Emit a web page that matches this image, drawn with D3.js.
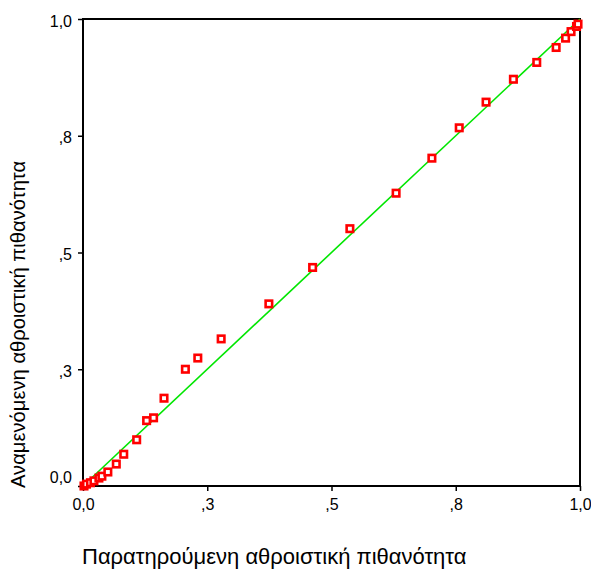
<!DOCTYPE html>
<html>
<head>
<meta charset="utf-8">
<script src="https://cdn.jsdelivr.net/npm/d3@7"></script>
<style>
  body { margin: 0; background: #fff; }
  text { font-family: Arial, "Liberation Sans", sans-serif; fill: #000; }
</style>
</head>
<body>
<svg></svg>
<script>
const width = 591;
const height = 571;

// observed vs expected cumulative probability (P-P plot)
const observed = [0.002, 0.007, 0.015, 0.022, 0.032, 0.038, 0.050, 0.067, 0.082, 0.108,
  0.128, 0.142, 0.163, 0.206, 0.231, 0.278, 0.374, 0.462, 0.537, 0.630,
  0.702, 0.757, 0.811, 0.866, 0.913, 0.952, 0.971, 0.982, 0.993, 0.996];
const expected = [0.000, 0.004, 0.007, 0.011, 0.017, 0.021, 0.030, 0.047, 0.068, 0.099,
  0.140, 0.146, 0.188, 0.250, 0.274, 0.315, 0.390, 0.468, 0.551, 0.627,
  0.702, 0.767, 0.822, 0.871, 0.907, 0.939, 0.959, 0.973, 0.984, 0.989];
const tickValues = [0, 0.25, 0.5, 0.75, 1];
const tickLabels = ["0,0", ",3", ",5", ",8", "1,0"];
const xTitle = "Παρατηρούμενη αθροιστική πιθανότητα";
const yTitle = "Αναμενόμενη αθροιστική πιθανότητα";

const margin = {top: 19, right: 11, bottom: 85, left: 83};

const svg = d3.select("svg")
    .attr("width", width)
    .attr("height", height);

const x = d3.scaleLinear().domain([0, 1]).range([margin.left, width - margin.right]);
const y = d3.scaleLinear().domain([0, 1]).range([height - margin.bottom, margin.top]);

const fmt = d => tickLabels[tickValues.indexOf(d)];

// axes
const xAxis = svg.append("g")
    .attr("transform", `translate(0,${y(0)})`)
    .call(d3.axisBottom(x).tickValues(tickValues).tickFormat(fmt).tickSize(5).tickPadding(8));
const yAxis = svg.append("g")
    .attr("transform", `translate(${x(0)},0)`)
    .call(d3.axisLeft(y).tickValues(tickValues).tickFormat(fmt).tickSize(5).tickPadding(6));

[xAxis, yAxis].forEach(a => {
  a.select(".domain").remove();
  a.selectAll(".tick line").attr("stroke", "#000").attr("stroke-width", 1.5);
  a.selectAll(".tick text").attr("font-size", 16).attr("font-family", "Arial, 'Liberation Sans', sans-serif");
});
// SPSS lifts the zero label off the corner
yAxis.selectAll(".tick text").attr("dy", d => d === 0 ? "-0.2em" : "0.45em");

// frame
svg.append("rect")
    .attr("x", x(0))
    .attr("y", y(1))
    .attr("width", x(1) - x(0))
    .attr("height", y(0) - y(1))
    .attr("fill", "none")
    .attr("stroke", "#000")
    .attr("stroke-width", 2);

// reference line
svg.append("line")
    .attr("x1", x(0)).attr("y1", y(0))
    .attr("x2", x(1)).attr("y2", y(1))
    .attr("stroke", "#00e600")
    .attr("stroke-width", 1.6);

// points
const s = 6.5;
svg.append("g")
  .selectAll("rect")
  .data(observed.map((d, i) => [d, expected[i]]))
  .join("rect")
    .attr("x", d => x(d[0]) - s / 2)
    .attr("y", d => y(d[1]) - s / 2)
    .attr("width", s)
    .attr("height", s)
    .attr("fill", "#fff")
    .attr("stroke", "#ff0000")
    .attr("stroke-width", 2.6);

// titles
svg.append("text")
    .attr("x", x(0) - 1)
    .attr("y", 564)
    .attr("font-size", 22)
    .text(xTitle);

svg.append("text")
    .attr("transform", `translate(25,${488}) rotate(-90)`)
    .attr("font-size", 20.2)
    .text(yTitle);
</script>
</body>
</html>
